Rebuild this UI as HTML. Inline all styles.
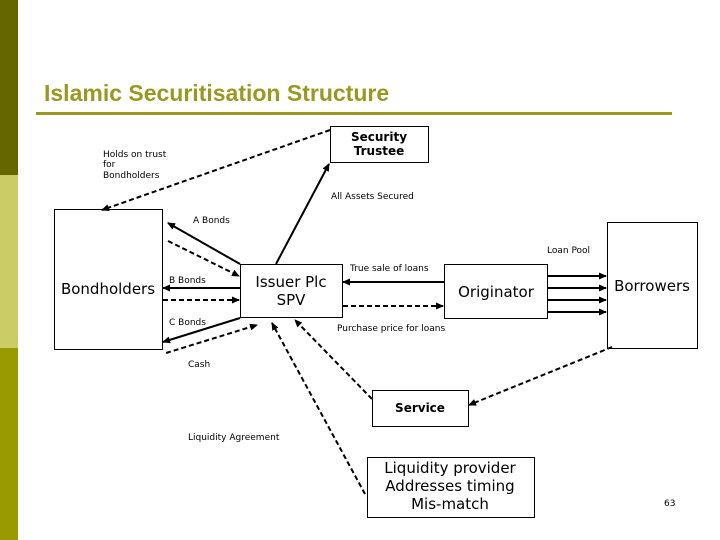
<!DOCTYPE html>
<html><head><meta charset="utf-8"><style>
html,body{margin:0;padding:0;background:#fff;}
svg{display:block;}
.s{font-family:"DejaVu Sans","Liberation Sans",sans-serif;fill:#000;}
</style></head><body>
<svg width="720" height="540" viewBox="0 0 720 540" xmlns="http://www.w3.org/2000/svg">
<defs>
<marker id="a" markerWidth="8" markerHeight="8" refX="7" refY="4" orient="auto" markerUnits="userSpaceOnUse">
<path d="M0,0.5 L8,4 L0,7.5 Z" fill="#000"/></marker>
</defs>
<rect x="0" y="0" width="18" height="175" fill="#666600"/>
<rect x="0" y="175" width="18" height="173" fill="#cccc66"/>
<rect x="0" y="348" width="18" height="192" fill="#999900"/>
<text x="44" y="101" font-family="Liberation Sans, sans-serif" font-weight="bold" font-size="23" fill="#999922">Islamic Securitisation Structure</text>
<rect x="36" y="112" width="636" height="3" fill="#999922"/>

<g fill="#fff" stroke="#000" stroke-width="1">
<rect x="54.5" y="209.5" width="108" height="140"/>
<rect x="240.5" y="264.5" width="102" height="53"/>
<rect x="330.5" y="126.5" width="98" height="36"/>
<rect x="444.5" y="264.5" width="103" height="54"/>
<rect x="607.5" y="222.5" width="90" height="126"/>
<rect x="372.5" y="390.5" width="96" height="36"/>
<rect x="367.5" y="457.5" width="167" height="60"/>
</g>

<g stroke="#000" stroke-width="2" fill="none">
<path d="M276,264 L329,164" marker-end="url(#a)"/>
<path d="M240,264 L168,223" marker-end="url(#a)"/>
<path d="M240,288 L163,288" marker-end="url(#a)"/>
<path d="M240,318 L163,342" marker-end="url(#a)"/>
<path d="M444,282 L343,282" marker-end="url(#a)"/>
<path d="M547,276 L606,276" marker-end="url(#a)"/>
<path d="M547,288 L606,288" marker-end="url(#a)"/>
<path d="M547,300 L606,300" marker-end="url(#a)"/>
<path d="M547,312 L606,312" marker-end="url(#a)"/>
</g>
<g stroke="#000" stroke-width="2" fill="none" stroke-dasharray="5,3">
<path d="M330,130 L102,210" marker-end="url(#a)"/>
<path d="M168,241 L239,276" marker-end="url(#a)"/>
<path d="M163,300 L239,300" marker-end="url(#a)"/>
<path d="M166,353 L257,325" marker-end="url(#a)"/>
<path d="M343,306 L443,306" marker-end="url(#a)"/>
<path d="M612,347 L469,405" marker-end="url(#a)"/>
<path d="M372,399 L295,320" marker-end="url(#a)"/>
<path d="M365,494 L272,323" marker-end="url(#a)"/>
</g>

<g class="s" font-size="9">
<text x="103" y="157">Holds on trust</text>
<text x="103" y="167">for</text>
<text x="103" y="178">Bondholders</text>
<text x="331" y="199">All Assets Secured</text>
<text x="193" y="223">A Bonds</text>
<text x="547" y="253">Loan Pool</text>
<text x="350" y="271">True sale of loans</text>
<text x="169" y="283">B Bonds</text>
<text x="169" y="325">C Bonds</text>
<text x="337" y="331">Purchase price for loans</text>
<text x="188" y="367">Cash</text>
<text x="188" y="440">Liquidity Agreement</text>
<text x="664" y="506">63</text>
</g>
<g class="s" text-anchor="middle">
<text x="379" y="141" font-size="12" font-weight="bold">Security</text>
<text x="379" y="155" font-size="12" font-weight="bold">Trustee</text>
<text x="108" y="294" font-size="15">Bondholders</text>
<text x="291" y="287" font-size="15">Issuer Plc</text>
<text x="291" y="305" font-size="15">SPV</text>
<text x="496" y="297" font-size="15">Originator</text>
<text x="652" y="291" font-size="15">Borrowers</text>
<text x="420" y="412" font-size="12" font-weight="bold">Service</text>
<text x="450" y="473" font-size="15">Liquidity provider</text>
<text x="450" y="491" font-size="15">Addresses timing</text>
<text x="450" y="509" font-size="15">Mis-match</text>
</g>
</svg>
</body></html>
